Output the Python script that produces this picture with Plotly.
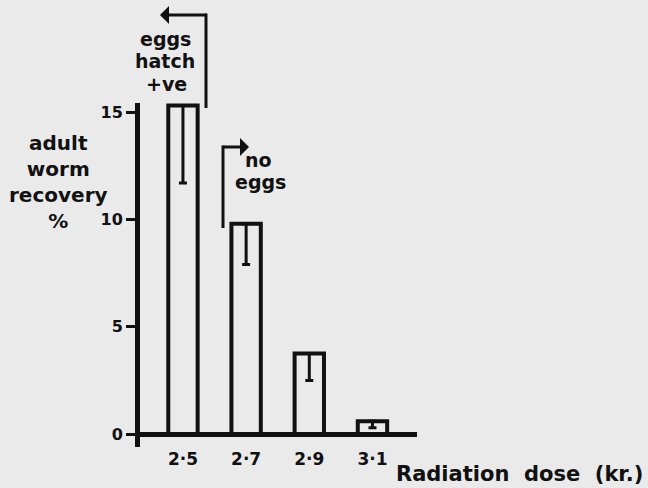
import plotly.graph_objects as go

# Adult worm recovery after irradiation of larvae
doses = [2.5, 2.7, 2.9, 3.1]
dose_labels = ["2·5", "2·7", "2·9", "3·1"]
recovery = [15.3, 9.8, 3.75, 0.6]        # mean recovery, %
recovery_low = [11.7, 7.9, 2.5, 0.3]     # lower end of the range, %
y_ticks = [0, 5, 10, 15]

FONT = "DejaVu Sans"
INK = "#111111"
BG = "#eaeaea"

W, H = 648, 488
ML, MR, MT, MB = 140, 231, 103, 41
PW, PH = W - ML - MR, H - MT - MB


def px(xp):
    return (xp - ML) / PW


def py(yp):
    return (H - MB - yp) / PH


fig = go.Figure()
fig.add_trace(go.Bar(
    x=doses,
    y=recovery,
    width=0.093,
    marker=dict(color="rgba(0,0,0,0)", line=dict(color=INK, width=4)),
    error_y=dict(
        type="data",
        symmetric=False,
        array=[0] * len(recovery),
        arrayminus=[m - lo for m, lo in zip(recovery, recovery_low)],
        color=INK,
        thickness=3,
        width=4,
    ),
    cliponaxis=False,
    hoverinfo="skip",
))

annotations = []

# y-axis caption
annotations.append(dict(
    text="adult<br>worm<br>recovery<br>%",
    x=px(58), y=py(182), xref="paper", yref="paper",
    xanchor="center", yanchor="middle", align="center", showarrow=False,
    font=dict(family=FONT, size=20, color=INK, weight="bold"),
))

# x-axis caption
annotations.append(dict(
    text="Radiation \u00a0dose \u00a0(kr.)",
    x=px(519), y=py(474), xref="paper", yref="paper",
    xanchor="center", yanchor="middle", showarrow=False,
    font=dict(family=FONT, size=21, color=INK, weight="bold"),
))

# notes above the bars
for txt, cx, cy in [("eggs", 165, 39), ("hatch", 165, 61), ("+ve", 166, 84),
                    ("no", 258, 160), ("eggs", 260, 182)]:
    annotations.append(dict(
        text=txt, x=px(cx), y=py(cy), xref="paper", yref="paper",
        xanchor="center", yanchor="middle", showarrow=False,
        font=dict(family=FONT, size=19, color=INK, weight="bold"),
    ))

# elbow arrows: horizontal run with head
annotations.append(dict(
    text="", x=px(160), y=py(15), xref="paper", yref="paper",
    ax=48, ay=0, showarrow=True, arrowhead=1, arrowsize=1.0,
    arrowwidth=3, arrowcolor=INK, standoff=0, startstandoff=0,
))
annotations.append(dict(
    text="", x=px(249), y=py(147), xref="paper", yref="paper",
    ax=-27.5, ay=0, showarrow=True, arrowhead=1, arrowsize=1.0,
    arrowwidth=3, arrowcolor=INK, standoff=0, startstandoff=0,
))

shapes = [
    dict(type="line", xref="paper", yref="paper",
         x0=px(206), x1=px(206), y0=py(108), y1=py(13.5),
         line=dict(color=INK, width=3)),
    dict(type="line", xref="paper", yref="paper",
         x0=px(223), x1=px(223), y0=py(228), y1=py(145.5),
         line=dict(color=INK, width=3)),
]

fig.update_layout(
    width=W, height=H, autosize=False,
    margin=dict(l=ML, r=MR, t=MT, b=MB, pad=0),
    paper_bgcolor=BG, plot_bgcolor=BG,
    showlegend=False,
    annotations=annotations,
    shapes=shapes,
    xaxis=dict(
        range=[2.364, 3.241],
        tickvals=doses, ticktext=dose_labels,
        ticks="", showline=False, showgrid=False, zeroline=False,
        tickfont=dict(family=FONT, size=17, color=INK, weight="bold"),
        fixedrange=True,
    ),
    yaxis=dict(
        range=[-0.6, 15.42],
        tickvals=y_ticks,
        ticks="outside", ticklen=9, tickwidth=3, tickcolor=INK,
        showline=True, linewidth=5, linecolor=INK,
        showgrid=False,
        zeroline=True, zerolinewidth=5, zerolinecolor=INK,
        tickfont=dict(family=FONT, size=16, color=INK, weight="bold"),
        fixedrange=True,
    ),
)

fig.write_html("out.html")
